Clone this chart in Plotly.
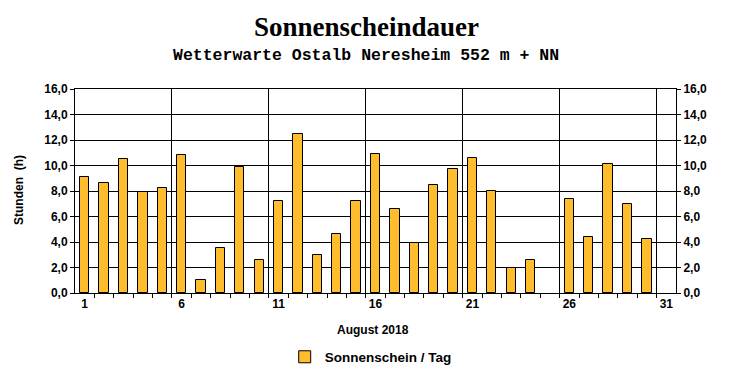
import plotly.graph_objects as go

days = list(range(1, 32))
sunshine = [9.1, 8.6, 10.5, 7.9, 8.2, 10.8, 1.0, 3.5, 9.9, 2.6,
            7.2, 12.5, 3.0, 4.6, 7.2, 10.9, 6.6, 3.9, 8.5, 9.7,
            10.6, 8.0, 2.0, 2.6, None, 7.4, 4.4, 10.1, 7.0, 4.2, None]
label_days = [1, 6, 11, 16, 21, 26, 31]
title = "Sonnenscheindauer"
subtitle = "Wetterwarte Ostalb Neresheim 552 m + NN"
xtitle = "August 2018"
ytitle = "Stunden  (h)"
series_name = "Sonnenschein / Tag"

boundaries = [d + 0.5 for d in days[:-1]]
major_bounds = [d - 0.5 for d in label_days[1:]]
xr = [days[0] - 0.5, days[-1] + 0.5]

F = dict(family="Liberation Sans, Arial, sans-serif", size=12, color="black", weight="bold")

fig = go.Figure()
fig.add_trace(go.Bar(
    x=days, y=sunshine, width=0.48, name=series_name,
    marker=dict(color="#FFB830", line=dict(color="black", width=1),
                pattern=dict(shape=".", size=2, solidity=0.5,
                             fgcolor="#FF9900", bgcolor="#FFD850", fillmode="replace")),
    showlegend=True, hoverinfo="skip",
))
fig.add_trace(go.Scatter(x=days, y=sunshine, xaxis="x2", yaxis="y2", mode="none",
                         showlegend=False, hoverinfo="skip"))

fig.update_layout(
    width=732, height=380,
    margin=dict(l=75, r=56, t=89, b=87, autoexpand=False),
    plot_bgcolor="white", paper_bgcolor="white",
    separators=",.",
    font=F,
    bargap=0,
    xaxis=dict(range=xr, tickmode="array", tickvals=major_bounds, showticklabels=False,
               ticks="outside", ticklen=4, tickcolor="black", automargin=False,
               minor=dict(tickmode="array", tickvals=boundaries, ticks="outside", ticklen=4,
                          tickcolor="black", showgrid=False),
               showgrid=True, gridcolor="black", gridwidth=1,
               showline=True, linecolor="black", linewidth=1, mirror=True, zeroline=False),
    xaxis2=dict(range=xr, overlaying="x", anchor="y", side="bottom", matches="x",
                tickmode="array", tickvals=label_days, ticktext=[str(d) for d in label_days],
                ticks="", showgrid=False, showline=False, zeroline=False, automargin=False,
                tickfont=F, ticklabelstandoff=2),
    yaxis=dict(range=[0, 16], dtick=2, tickformat=".1f", ticks="outside", ticklen=4,
               tickcolor="black", showgrid=True, gridcolor="black", gridwidth=1,
               showline=True, linecolor="black", linewidth=1, mirror=True, zeroline=False,
               tickfont=F, automargin=False),
    yaxis2=dict(range=[0, 16], dtick=2, tickformat=".1f", overlaying="y", side="right",
                anchor="x", matches="y", ticks="outside", ticklen=4, tickcolor="black",
                showgrid=False, showline=True, linecolor="black", zeroline=False,
                tickfont=F, automargin=False),
    legend=dict(orientation="h", x=0.492, xanchor="center", yref="container",
                y=1 - 357 / 380, yanchor="middle",
                font=dict(family="Liberation Sans, Arial, sans-serif", size=13.5,
                          color="black", weight="bold"),
                bgcolor="rgba(0,0,0,0)"),
    annotations=[
        dict(text=title, xref="paper", yref="paper", x=(366 - 75) / 601, y=(293 - 27) / 204,
             xanchor="center", yanchor="middle", showarrow=False,
             font=dict(family="Liberation Serif, Times New Roman, serif", size=27,
                       color="black", weight="bold")),
        dict(text=subtitle, xref="paper", yref="paper", x=(366 - 75) / 601, y=(293 - 56) / 204,
             xanchor="center", yanchor="middle", showarrow=False,
             font=dict(family="Liberation Mono, Courier New, monospace", size=16.5,
                       color="black", weight="bold")),
        dict(text=xtitle, xref="paper", yref="paper", x=(373 - 75) / 601, y=(293 - 330) / 204,
             xanchor="center", yanchor="middle", showarrow=False, font=F),
        dict(text=ytitle, xref="paper", yref="paper", x=(19 - 75) / 601, y=(293 - 190) / 204,
             xanchor="center", yanchor="middle", showarrow=False, textangle=-90, font=F),
    ],
)

fig.write_html("out.html")
